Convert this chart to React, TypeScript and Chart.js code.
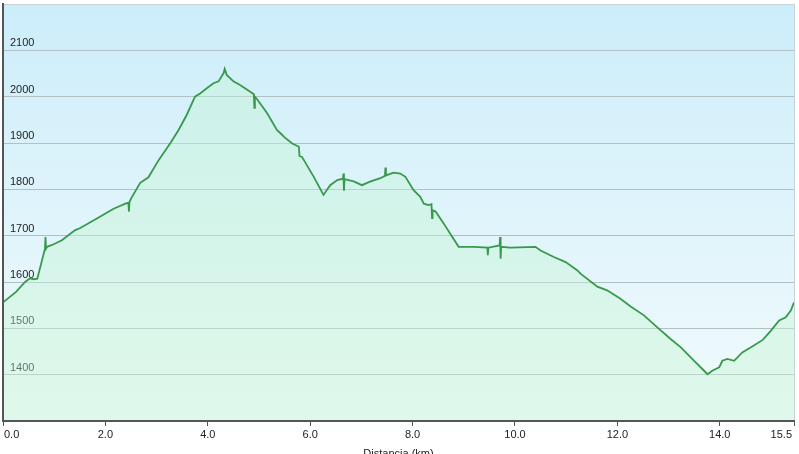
import React, { useEffect, useRef } from 'react';
import { Chart, registerables } from 'chart.js';

Chart.register(...registerables);

// Distance along the route (km)
const DIST = [
  0.0, 0.25, 0.43, 0.53, 0.6, 0.67, 0.82, 0.83, 0.84, 0.86, 0.98, 1.15, 1.41, 1.5, 1.8,
  2.16, 2.39, 2.45, 2.46, 2.47, 2.5, 2.68, 2.84, 3.04, 3.27, 3.43, 3.59, 3.75, 3.85, 3.98,
  4.11, 4.21, 4.31, 4.33, 4.37, 4.5, 4.63, 4.77, 4.9, 4.91, 4.92, 4.96, 5.16, 5.35, 5.42,
  5.5, 5.65, 5.78, 5.79, 5.8, 5.84, 6.07, 6.26, 6.39, 6.53, 6.64, 6.65, 6.66, 6.67, 6.85,
  7.01, 7.18, 7.37, 7.46, 7.47, 7.48, 7.63, 7.76, 7.86, 8.02, 8.15, 8.22, 8.31, 8.37, 8.38,
  8.39, 8.45, 8.61, 8.77, 8.9, 9.2, 9.46, 9.47, 9.48, 9.7, 9.71, 9.72, 9.73, 9.91, 10.4,
  10.5, 10.76, 10.99, 11.22, 11.28, 11.61, 11.8, 12.06, 12.26, 12.52, 12.78, 13.04, 13.24,
  13.5, 13.69, 13.76, 13.86, 13.99, 14.05, 14.15, 14.28, 14.44, 14.61, 14.84, 15.0, 15.16,
  15.29, 15.39, 15.45,
];

// Elevation (m)
const ELEV = [
  1556, 1578, 1600, 1608, 1606, 1607, 1672, 1697, 1672, 1676, 1681, 1690, 1712, 1716, 1735,
  1758, 1769, 1771, 1752, 1772, 1780, 1814, 1826, 1863, 1900, 1928, 1961, 2000, 2007, 2018,
  2029, 2033, 2051, 2060, 2047, 2033, 2025, 2015, 2005, 1976, 2000, 1995, 1964, 1928, 1921,
  1912, 1899, 1892, 1872, 1872, 1870, 1827, 1788, 1809, 1820, 1823, 1834, 1797, 1822, 1817,
  1809, 1817, 1824, 1829, 1847, 1830, 1836, 1834, 1827, 1798, 1784, 1769, 1766, 1768, 1738,
  1755, 1752, 1726, 1698, 1676, 1676, 1674, 1658, 1674, 1679, 1697, 1650, 1676, 1674, 1676,
  1668, 1654, 1643, 1625, 1618, 1590, 1582, 1564, 1547, 1528, 1502, 1477, 1459,
  1430, 1409, 1401, 1409, 1416, 1430, 1434, 1430, 1448, 1459, 1475, 1495, 1517,
  1524, 1539, 1556,
];

const X_TICKS = [0, 2, 4, 6, 8, 10, 12, 14, 15.45];
const X_TICK_LABELS = ['0.0', '2.0', '4.0', '6.0', '8.0', '10.0', '12.0', '14.0', '15.5'];
const Y_TICK_LABELS = [1400, 1500, 1600, 1700, 1800, 1900, 2000, 2100];
const X_TITLE = 'Distancia (km)';

const FONT = '"Liberation Sans", Arial, sans-serif';

export default function App() {
  const ref = useRef<HTMLCanvasElement>(null);

  useEffect(() => {
    document.body.style.margin = '0';
    const canvas = ref.current!;

    const bgPlugin = {
      id: 'bg',
      beforeDraw(chart: any) {
        const { ctx, chartArea } = chart;
        const { left, top, right, bottom } = chartArea;
        const g = ctx.createLinearGradient(0, top, 0, bottom);
        g.addColorStop(0, '#ccedfa');
        g.addColorStop(1, '#f2fbfc');
        ctx.save();
        ctx.fillStyle = g;
        ctx.fillRect(left, top, right - left, bottom - top);
        ctx.restore();
      },
    };

    const labelsPlugin = {
      id: 'xlabels',
      afterDraw(chart: any) {
        const xs = chart.scales.x;
        const { ctx, chartArea } = chart;
        ctx.save();
        ctx.font = '11px ' + FONT;
        ctx.fillStyle = '#222';
        ctx.textBaseline = 'alphabetic';
        const last = X_TICKS.length - 1;
        X_TICKS.forEach((v, i) => {
          const px = xs.getPixelForValue(v);
          let x = px;
          if (i === 0) {
            ctx.textAlign = 'left';
            x = px + 1;
          } else if (i === last) {
            ctx.textAlign = 'right';
            x = px - 2;
          } else {
            ctx.textAlign = 'center';
          }
          ctx.fillText(X_TICK_LABELS[i], x, 438);
        });
        ctx.textAlign = 'center';
        ctx.fillText(X_TITLE, (chartArea.left + chartArea.right) / 2, 457);
        ctx.restore();
      },
    };

    const chart = new Chart(canvas, {
      type: 'line',
      data: {
        datasets: [
          {
            data: DIST.map((d, i) => ({ x: d, y: ELEV[i] })),
            borderColor: '#38994c',
            borderWidth: 1.8,
            pointRadius: 0,
            tension: 0,
            fill: 'start',
            backgroundColor: 'rgba(195, 245, 210, 0.4)',
          },
        ],
      },
      options: {
        animation: false,
        responsive: true,
        maintainAspectRatio: false,
        layout: { autoPadding: false, padding: { left: 3, right: 5, top: 4, bottom: 28 } },
        plugins: { legend: { display: false }, tooltip: { enabled: false } },
        scales: {
          x: {
            type: 'linear',
            min: 0,
            max: 15.45,
            afterBuildTicks: (axis: any) => {
              axis.ticks = X_TICKS.map((v) => ({ value: v }));
            },
            afterFit: (s: any) => {
              s.paddingTop = 0;
              s.paddingBottom = 0;
              s.paddingLeft = 0;
              s.paddingRight = 0;
            },
            ticks: { display: false },
            grid: {
              drawTicks: true,
              tickLength: 5,
              tickColor: '#555',
              tickWidth: 1,
              color: (c: any) => (c.tick && c.tick.value === 15.45 ? '#c9d3d7' : 'rgba(0,0,0,0)'),
            },
            border: { display: true, color: '#555', width: 2, z: 1 },
          },
          y: {
            min: 1300,
            max: 2200,
            afterFit: (s: any) => {
              s.width = 0;
              s.paddingTop = 0;
              s.paddingBottom = 0;
              s.paddingLeft = 0;
              s.paddingRight = 0;
            },
            ticks: {
              stepSize: 100,
              mirror: true,
              padding: 7,
              labelOffset: -7,
              color: '#222',
              font: { family: FONT, size: 11 },
              callback: (v: any) => (Y_TICK_LABELS.includes(Number(v)) ? String(v) : ''),
            },
            grid: {
              drawTicks: false,
              color: (c: any) => {
                const v = c.tick ? c.tick.value : 0;
                if (v === 2200) return '#c9d3d7';
                if (v === 1300) return 'rgba(0,0,0,0)';
                return '#b2c0c6';
              },
            },
            border: { display: true, color: '#555', width: 2, z: 1 },
          },
        },
      },
      plugins: [bgPlugin, labelsPlugin],
    });

    return () => chart.destroy();
  }, []);

  return (
    <div style={{ width: 799, height: 454, position: 'relative' }}>
      <canvas ref={ref} />
    </div>
  );
}
